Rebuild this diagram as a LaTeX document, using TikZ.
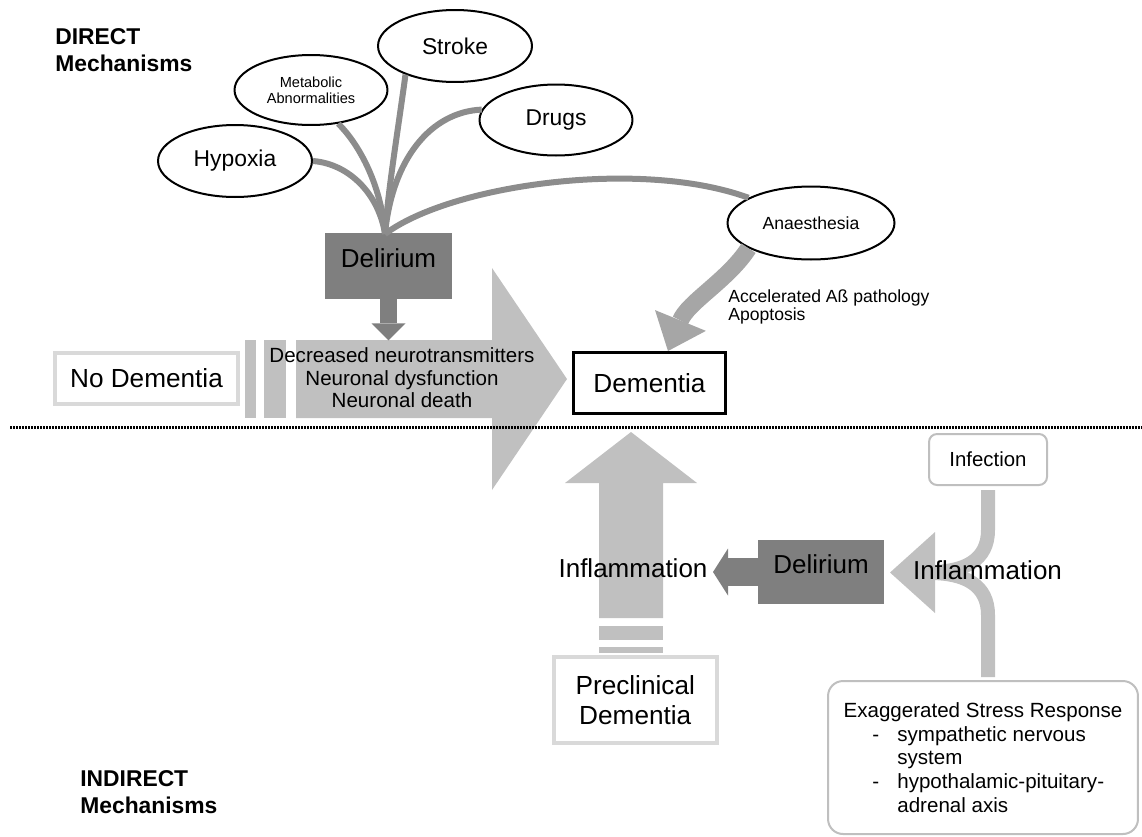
\documentclass[tikz,border=0pt]{standalone}
\usepackage{fontspec}
\setmainfont{Liberation Sans}
\usepackage{xcolor}
\usetikzlibrary{arrows.meta, shapes.geometric, calc}
\definecolor{boxDark}{HTML}{7F7F7F}
\definecolor{feedGray}{HTML}{8C8C8C}
\definecolor{anaesGray}{HTML}{A6A6A6}
\definecolor{flowGray}{HTML}{C0C0C0}
\definecolor{rimGray}{HTML}{D9D9D9}
\definecolor{softRim}{HTML}{BFBFBF}
\newcommand{\fsz}[2]{\fontsize{#1pt}{#2pt}\selectfont}
\newcommand{\stressDash}{\makebox[30.6pt][l]{\hspace*{16.4pt}-}}
\tikzset{
  cause/.style={ellipse, draw=black, line width=0.04cm, fill=white, inner sep=0pt, align=center},
  feeder/.style={draw=feedGray, line width=0.12cm},
  delbox/.style={fill=boxDark, inner sep=0pt, text depth=0.32cm, font=\fsz{14.8}{17}},
  stagebox/.style={draw=rimGray, line width=0.08cm, fill=white, inner sep=0pt, align=center, font=\fsz{14.9}{17}},
  softbox/.style={draw=softRim, line width=0.04cm, fill=white, inner sep=0pt},
  flow/.style={fill=flowGray},
  band/.style={draw=flowGray, line width=0.28cm},
  heading/.style={anchor=north west, inner sep=0pt, align=left, font=\fsz{13}{15.3}\bfseries}
}

\begin{document}
\begin{tikzpicture}[x=0.02cm, y=-0.02cm]
        \useasboundingbox (0,0) rectangle (1142,836);

        \fill[flow] (245,340) rectangle (256,418);
        \fill[flow] (264,340) rectangle (286,418);
        \fill[flow] (296,340) -- (492,340) -- (492,268) -- (567,379) -- (492,490) -- (492,418) -- (296,418) -- cycle;
        \fill[flow] (599,626) rectangle (663,640);
        \fill[flow] (599,647) rectangle (663,653);
        \fill[flow] (599,618) -- (599,483) -- (565,483) -- (631,432) -- (697,483) -- (663,483) -- (663,618) -- cycle;

        \draw[black, line width=0.06cm, dash pattern=on 0.04cm off 0.02cm] (10,427) -- (1142,427);

        \node[heading] (direct) at (55,28.5) {DIRECT\\Mechanisms};
        \node[heading] (indirect) at (80,770.5) {INDIRECT\\Mechanisms};

        \node[cause, minimum width=3.08cm, minimum height=1.44cm, font=\fsz{13}{15}] (hypoxia) at (235,161) {Hypoxia};
        \node[cause, minimum width=3.06cm, minimum height=1.4cm, font=\fsz{8.3}{9.1}] (metab) at (311,90) {Metabolic\\Abnormalities};
        \node[cause, minimum width=3.08cm, minimum height=1.44cm, font=\fsz{13}{15}] (stroke) at (455,46) {Stroke};
        \node[cause, minimum width=3.06cm, minimum height=1.42cm, font=\fsz{13}{15}] (drugs) at (556,120) {Drugs};
        \node[cause, minimum width=3.34cm, minimum height=1.46cm, font=\fsz{10}{12}] (anaes) at (811,223) {Anaesthesia};

        \node[delbox, minimum width=2.54cm, minimum height=1.32cm] (delirA) at (388.5,266) {Delirium};
        \coordinate (hub) at (385,234);

        \node[stagebox, minimum width=3.66cm, minimum height=1.02cm] (nodem) at (146.5,378.5) {No Dementia};
        \node[draw=black, line width=0.06cm, fill=white, inner sep=0pt, minimum width=3.04cm, minimum height=1.22cm,
              font=\fsz{14.9}{17}] (dem) at (649.5,383) {Dementia};
        \node[anchor=north, inner sep=0pt, align=center, font=\fsz{11.7}{13}] (loss) at (402,347)
              {Decreased neurotransmitters\\Neuronal dysfunction\\Neuronal death};
        \node[anchor=north west, inner sep=0pt, align=left, font=\fsz{10}{10.4}] (abeta) at (728,289)
              {Accelerated Aß pathology\\Apoptosis};

        \node[stagebox, minimum width=3.27cm, minimum height=1.72cm] (precl) at (635.25,700) {Preclinical\\Dementia};
        \node[delbox, minimum width=2.52cm, minimum height=1.28cm] (delirB) at (821,572) {Delirium};
        \node[inner sep=0pt, font=\fsz{14.8}{17}] (inflL) at (633,568.5) {Inflammation};
        \coordinate (inflTip) at (713,572);
        \node[softbox, rounded corners=0.16cm, minimum width=2.36cm, minimum height=1.02cm, font=\fsz{11.6}{13}] (infec) at (988,459.5) {Infection};
        \node[softbox, rounded corners=0.3cm, minimum width=6.2cm, minimum height=3.06cm, align=left, font=\fsz{11.7}{13.5}] (stress) at (983,757.5)
              {Exaggerated Stress Response\\
               \stressDash sympathetic nervous\\
               \hspace*{30.6pt}system\\
               \stressDash hypothalamic-pituitary-\\
               \hspace*{30.6pt}adrenal axis};

        \draw[feeder] (hypoxia.east) .. controls (350,164) and (379,195) .. (hub);
        \draw[feeder] (metab.-51) .. controls (357,142) and (381,182) .. (hub);
        \draw[feeder] (stroke.-150) .. controls (398,130) and (388,190) .. (hub);
        \draw[feeder] (drugs.172) .. controls (430,112) and (392,160) .. (hub);
        \draw[feeder] (anaes.158) .. controls (640,158) and (450,185) .. (hub);

        \draw[draw=boxDark, line width=0.34cm, -{Triangle[length=0.34cm, width=0.68cm, line width=0pt]}] (delirA.south) -- ++(0,41);
        \draw[draw=anaesGray, line width=0.34cm, -{Triangle[length=0.66cm, width=1.1cm, line width=0pt]}]
              (anaes.-158) .. controls (728,280) and (688,302) .. (dem.60);
        \draw[draw=boxDark, line width=0.56cm, -{Triangle[length=0.3cm, width=0.94cm, line width=0pt]}] (delirB.west) -- (inflTip);

        \draw[band, shorten <=0.08cm] (infec.south) -- (988,530) .. controls (988,560) and (965,572) .. (930,572);
        \draw[band, shorten <=0.06cm] (stress.north -| infec.south) -- (988,615) .. controls (988,585) and (965,573) .. (930,573);
        \fill[flow] (935,532) -- (890,572.5) -- (935,613) -- cycle;
        \node[inner sep=0pt, font=\fsz{14.8}{17}] (inflR) at (987.5,570.5) {Inflammation};
      \end{tikzpicture}
\end{document}
